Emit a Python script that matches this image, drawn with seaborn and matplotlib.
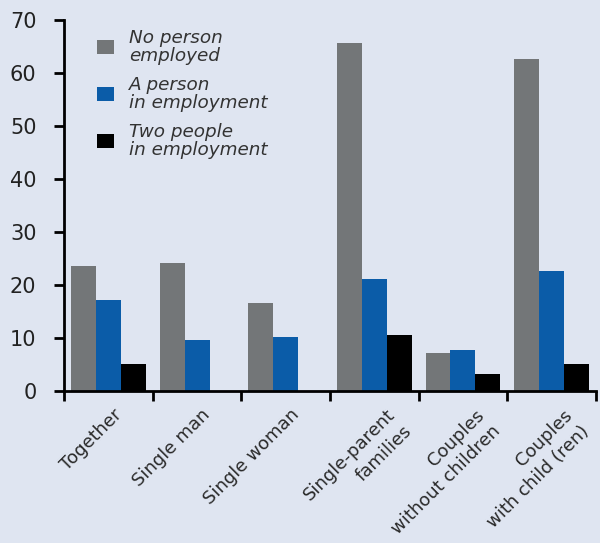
import numpy as np
import pandas as pd
import matplotlib
matplotlib.use("Agg")
import matplotlib.pyplot as plt
import matplotlib.transforms as mtransforms
import seaborn as sns
from matplotlib.ticker import FixedLocator

categories = ["Together", "Single man", "Single woman",
              "Single-parent\nfamilies", "Couples\nwithout children",
              "Couples\nwith child (ren)"]
series_names = ["No person\nemployed", "A person\nin employment",
                "Two people\nin employment"]
no_person = [23.6, 24.1, 16.6, 65.7, 7.1, 62.7]
one_person = [17.1, 9.6, 10.1, 21.1, 7.7, 22.6]
two_people = [5.1, 0, 0, 10.6, 3.2, 5.1]
y_ticks = [0, 10, 20, 30, 40, 50, 60, 70]

bg = "#dfe5f1"
palette = ["#737678", "#0b5ca8", "#000000"]

rows = []
for name, vals in zip(series_names, [no_person, one_person, two_people]):
    for cat, v in zip(categories, vals):
        rows.append({"category": cat, "series": name, "value": v})
df = pd.DataFrame(rows)

sns.set_style("white")
plt.rcParams['font.family'] = ['DejaVu Sans']

fig = plt.figure(figsize=(6, 5.43), dpi=100, facecolor=bg)
ax = fig.add_axes([0.107, 0.2805, 0.886, 0.6825])
ax.set_facecolor(bg)

sns.barplot(data=df, x="category", y="value", hue="series",
            order=categories, hue_order=series_names, palette=palette,
            width=0.84, linewidth=0, saturation=1, errorbar=None, ax=ax)

ax.set_xlim(-0.5, len(categories) - 0.5)
ax.set_ylim(0, 70)
ax.set_yticks(y_ticks)
ax.set_xlabel("")
ax.set_ylabel("")

for s in ["top", "right"]:
    ax.spines[s].set_visible(False)
for s in ["left", "bottom"]:
    ax.spines[s].set_color("black")
    ax.spines[s].set_linewidth(2)

ax.set_xticks(range(len(categories)))
ax.xaxis.set_minor_locator(FixedLocator(np.arange(-0.5, len(categories), 1.0)))
ax.tick_params(axis="x", which="major", bottom=True, length=0, pad=11)
ax.tick_params(axis="x", which="minor", bottom=True, length=7, width=2,
               color="black", direction="out")
ax.tick_params(axis="y", left=True, length=7, width=2, color="black",
               direction="out", labelsize=15, pad=13, labelcolor="#222222")
ax.set_xticklabels(categories, rotation=45, ha="right", va="top",
                   rotation_mode="anchor", fontsize=13, color="#2a2a2a")
for lab in ax.get_xticklabels():
    # two-line labels sit a little further right in the original
    dx = 12 if "\n" in lab.get_text() else 4
    offset = mtransforms.ScaledTranslation(dx / 100, 0, fig.dpi_scale_trans)
    lab.set_transform(lab.get_transform() + offset)
    lab.set_linespacing(1.35)

leg = ax.legend(loc="upper left", bbox_to_anchor=(0.048, 0.997), frameon=False,
                prop={"style": "italic", "size": 13.2}, handlelength=0.9,
                handleheight=0.85, handletextpad=0.85, labelspacing=0.6,
                borderaxespad=0)
for t in leg.get_texts():
    t.set_color("#333333")
    t.set_linespacing(1.0)

fig.savefig("out.png", dpi=100, facecolor=bg)
